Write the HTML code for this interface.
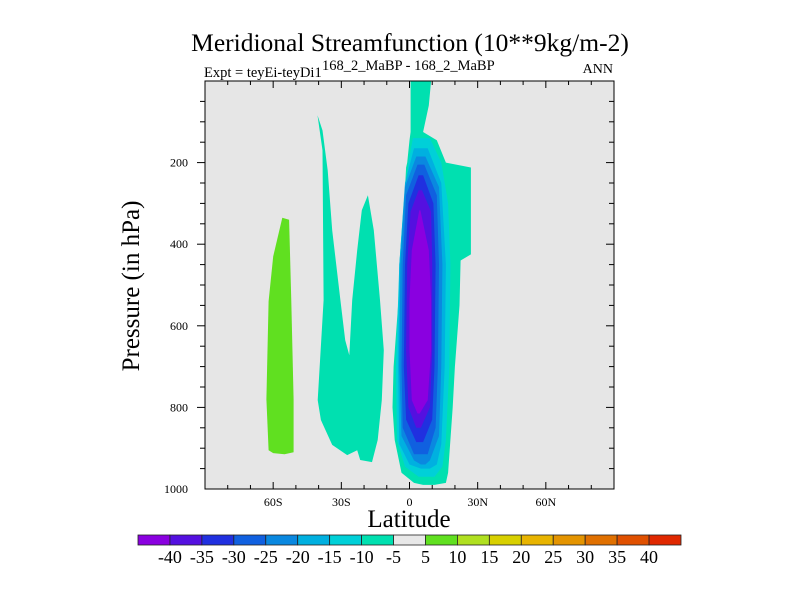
<!DOCTYPE html>
<html><head><meta charset="utf-8"><style>
html,body{margin:0;padding:0;background:#fff;}
svg{display:block;font-family:"Liberation Serif",serif;}
</style></head><body>
<svg id="chart" width="800" height="600" viewBox="0 0 800 600">
<text x="410" y="51" text-anchor="middle" font-size="25.5">Meridional Streamfunction (10**9kg/m-2)</text>
<text x="204" y="77" font-size="14.5">Expt = teyEi-teyDi1</text>
<text x="322" y="70" font-size="14.5">168_2_MaBP - 168_2_MaBP</text>
<text x="613" y="73" font-size="14" text-anchor="end">ANN</text>
<rect x="205" y="81" width="409" height="408" fill="#e6e6e6"/>
<g id="contours"></g>
<rect x="205" y="81" width="409" height="408" fill="none" stroke="#000" stroke-width="1"/>
<g id="ticks"></g>
<text transform="translate(139,286) rotate(-90)" text-anchor="middle" font-size="25">Pressure (in hPa)</text>
<text x="409" y="527" text-anchor="middle" font-size="25">Latitude</text>
<g id="cbar"></g>
</svg>
<script>
const NS="http://www.w3.org/2000/svg";
const latTicks=[-60,-30,0,30,60];
const latTickLabels=["60S","30S","0","30N","60N"];
const presTicks=[200,400,600,800,1000];
const cbarLabels=[-40,-35,-30,-25,-20,-15,-10,-5,5,10,15,20,25,30,35,40];
const cbarColors=["#8a00e0","#5410e0","#2030e0","#1060e0","#0a88e0","#00b0e0","#00d0d8","#00e0b0","#e8e8e8","#60e020","#b0e020","#d8d000","#e8b400","#e49400","#e07000","#e05000","#e02800"];
// contour regions: [pressure, leftLat, rightLat] rows
const levelTeal=[[0,0.5,9.5],[60,0.5,8.5],[125,0.5,6],[145,0,12],[200,-1,16],[212,-1.5,27],[425,-3.5,27],[440,-3.5,22.5],[550,-5,22],[700,-7,20],[800,-7.5,19],[880,-6.5,18],[960,-3.5,17],[985,2,16],[990,6,11]];
const level10=[[140,1.5,9],[200,-0.5,14],[300,-2.5,17],[450,-4.5,18],[700,-6,17.5],[880,-5.5,16],[945,-2,14.5],[970,4,11]];
const level15=[[165,2,8],[250,-2,14],[450,-4.5,16],[700,-5,15.5],[890,-4.5,14],[940,0,12],[950,5,9]];
const level20=[[185,3,7],[260,-2,13],[450,-4,14.5],[700,-4.5,14],[870,-3.5,13],[930,2,9],[940,5,7]];
const level25=[[205,3.5,6.5],[280,-1.5,12],[450,-3,13],[700,-3.5,12.5],[850,-3,11.5],[915,2,8]];
const level30=[[231,4,6],[300,-0.5,10.5],[450,-2,11.5],[700,-2.5,11],[830,-1.5,10],[885,3,6]];
const level35=[[268,4,5.5],[320,0.5,9.5],[450,-1,10],[660,-1.5,10],[800,-0.5,9],[850,3,5]];
const level40=[[317,4.3,4.8],[415,1,8.5],[537,0,9.5],[660,0,9.5],[782,1,8],[815,3.5,4.5]];
// polygons as [lat, pressure]
const greenBlob=[[-62,905],[-63,780],[-62,540],[-60,430],[-56,335],[-53,340],[-52,540],[-51,780],[-51,910],[-55,915],[-60,912]];
const tealWest=[[-40.5,84],[-38.3,170],[-37.8,537],[-40.4,782],[-39,831],[-34,892],[-27.4,917],[-23,905],[-21.7,929],[-16.5,934],[-14,880],[-12.2,782],[-11.3,660],[-13,537],[-15.7,366],[-18.3,280],[-21,317],[-23,415],[-25.2,537],[-26.5,672],[-28.3,635],[-30.4,537],[-34,366],[-36,219],[-38.3,121]];

const X=lat=>205+(lat+90)*409/180;
const Y=p=>81+p*408/1000;
const cont=document.getElementById('contours');
function poly(pts,color,name){
  const e=document.createElementNS(NS,'polygon');
  e.setAttribute('points',pts.map(q=>X(q[0]).toFixed(1)+','+Y(q[1]).toFixed(1)).join(' '));
  e.setAttribute('fill',color);
  e.setAttribute('stroke-linejoin','round');
  
  
  cont.appendChild(e);
}
function band(rows,color,name){
  const pts=rows.map(r=>[r[1],r[0]]).concat(rows.slice().reverse().map(r=>[r[2],r[0]]));
  poly(pts,color,name);
}
poly(greenBlob,cbarColors[9],'positive-cell-south');
poly(tealWest,cbarColors[7],'negative-cell-west');
band(levelTeal,cbarColors[7],'contour-minus5');
band(level10,cbarColors[6],'contour-minus10');
band(level15,cbarColors[5],'contour-minus15');
band(level20,cbarColors[4],'contour-minus20');
band(level25,cbarColors[3],'contour-minus25');
band(level30,cbarColors[2],'contour-minus30');
band(level35,cbarColors[1],'contour-minus35');
band(level40,cbarColors[0],'contour-minus40');

const tk=document.getElementById('ticks');
function line(x1,y1,x2,y2,name){
  const l=document.createElementNS(NS,'line');
  l.setAttribute('x1',x1);l.setAttribute('y1',y1);l.setAttribute('x2',x2);l.setAttribute('y2',y2);
  l.setAttribute('stroke','#000');l.setAttribute('stroke-width','1');
  
  
  tk.appendChild(l);
}
function text(x,y,s,anchor,size,name,parent){
  const t=document.createElementNS(NS,'text');
  t.setAttribute('x',x);t.setAttribute('y',y);t.setAttribute('text-anchor',anchor);
  t.setAttribute('font-size',size);t.textContent=s;
  
  
  (parent||tk).appendChild(t);
}
for(let lat=-80;lat<=80;lat+=10){
  const major=lat%30===0, L=major?7:4, x=X(lat);
  line(x,489,x,489-L,'x-tick');
  line(x,81,x,81+L,'x-tick-top');
}
latTicks.forEach((v,i)=>text(X(v),506,latTickLabels[i],'middle',12,'x-tick-label'));
for(let p=50;p<1000;p+=50){
  const major=p%200===0, L=major?8:5, y=Y(p);
  line(205,y,205-L,y,'y-tick');
  line(614,y,614-L,y,'y-tick-right');
}
presTicks.forEach(v=>text(188,Y(v)+4,String(v),'end',12,'y-tick-label'));

const cb=document.getElementById('cbar');
const cx0=138,cw=(681-138)/cbarColors.length;
cbarColors.forEach((c,i)=>{
  const r=document.createElementNS(NS,'rect');
  r.setAttribute('x',cx0+i*cw);r.setAttribute('y',535);r.setAttribute('width',cw);r.setAttribute('height',10);
  r.setAttribute('fill',c);r.setAttribute('stroke','#222');r.setAttribute('stroke-width','0.8');
  
  
  cb.appendChild(r);
});
cbarLabels.forEach((v,i)=>text(cx0+(i+1)*cw,563,String(v),'middle',18,'colorbar-label',cb));
</script>
</body></html>
